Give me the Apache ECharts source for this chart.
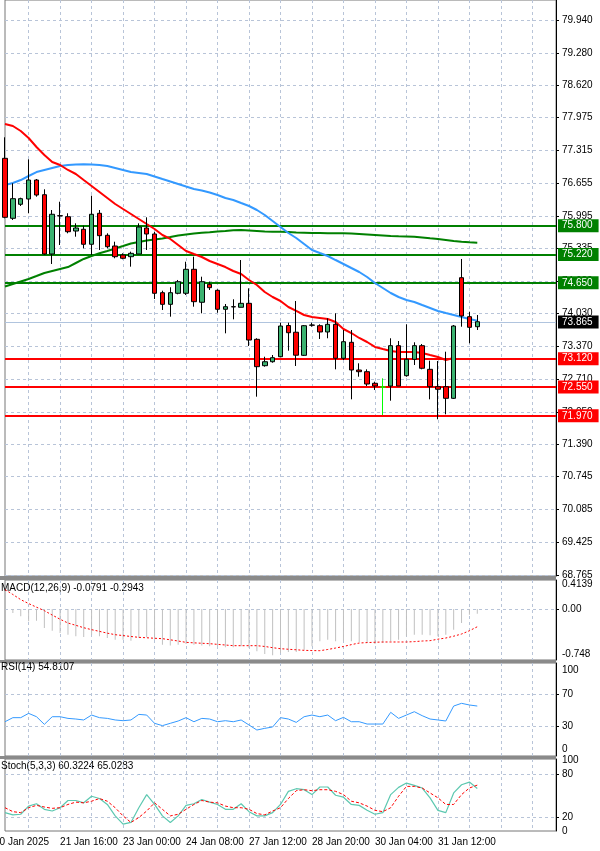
<!DOCTYPE html>
<html><head><meta charset="utf-8">
<script src="https://cdn.jsdelivr.net/npm/echarts@6/dist/echarts.min.js"></script>
<style>html,body{margin:0;padding:0;background:#fff}#c{width:600px;height:851px}</style>
</head><body><div id="c"></div>
<script>
const opens=[77.156,75.948,76.230,76.337,76.719,76.423,75.229,76.000,75.980,75.692,75.727,75.425,76.049,75.606,75.390,75.209,75.175,75.229,75.753,75.632,74.450,74.216,74.438,74.438,74.921,74.257,74.619,74.498,74.116,74.168,74.156,74.236,73.511,72.980,73.060,73.161,73.789,73.654,73.189,73.799,73.785,73.659,73.813,73.129,73.451,72.893,72.859,72.626,72.55,72.571,73.383,72.779,73.109,73.383,72.907,72.557,72.557,72.323,74.752,73.967,73.765];
const closes=[75.968,76.343,76.343,76.719,76.417,75.229,76.029,75.996,75.678,75.753,75.425,76.029,75.598,75.376,75.175,75.143,75.243,75.773,75.632,74.438,74.216,74.450,74.671,74.921,74.269,74.671,74.551,74.116,74.168,74.164,74.236,73.497,72.960,73.060,73.141,73.779,73.644,73.191,73.785,73.795,73.659,73.813,73.129,73.463,72.893,72.859,72.611,72.571,72.55,73.383,72.571,73.109,73.383,72.928,72.557,72.505,72.323,73.779,73.981,73.753,73.865];
const lows=[75.948,75.914,76.196,76.049,76.383,75.209,75.028,75.410,75.646,75.578,75.344,75.209,75.310,75.344,75.143,75.123,74.974,75.229,75.310,74.323,74.102,73.967,74.418,74.404,74.168,74.035,74.504,74.047,73.632,73.914,74.156,73.377,72.356,72.960,73.040,73.149,73.282,72.974,73.175,73.765,73.518,73.532,72.907,73.095,72.303,72.758,72.571,72.491,71.987,72.275,72.571,72.758,72.994,72.907,72.303,71.901,72.001,72.309,73.765,73.431,73.699];
const highs=[77.579,76.653,76.363,77.136,76.739,76.532,76.115,76.282,76.049,75.847,75.799,76.403,76.115,75.646,75.477,75.243,75.276,75.847,75.968,75.678,74.490,74.559,74.706,75.074,75.175,74.772,74.671,74.518,74.222,74.317,75.108,74.538,73.532,73.161,73.195,73.846,73.846,74.283,73.799,73.846,73.813,73.934,74.035,73.699,73.699,73.028,72.907,72.658,72.726,73.532,73.477,73.813,73.451,73.417,73.081,73.075,73.262,73.799,75.129,74.067,74.001];
const maRed=[77.847,77.807,77.706,77.565,77.384,77.223,77.082,77.021,76.921,76.840,76.719,76.599,76.478,76.357,76.236,76.135,76.035,75.934,75.833,75.733,75.612,75.532,75.411,75.290,75.229,75.169,75.088,75.028,74.967,74.887,74.826,74.706,74.605,74.464,74.363,74.283,74.162,74.082,74.001,73.961,73.941,73.920,73.860,73.719,73.638,73.538,73.457,73.357,73.316,73.276,73.256,73.256,73.256,73.236,73.195,73.155,73.095,73.135];
const maBlue=[76.619,76.659,76.719,76.800,76.880,76.921,76.961,77.001,77.021,77.031,77.035,77.031,77.021,77.001,76.961,76.921,76.880,76.860,76.840,76.790,76.739,76.689,76.639,76.588,76.538,76.508,76.468,76.417,76.357,76.317,76.256,76.196,76.115,76.015,75.894,75.773,75.652,75.551,75.431,75.310,75.249,75.189,75.108,75.028,74.947,74.867,74.766,74.645,74.545,74.444,74.363,74.303,74.263,74.202,74.142,74.082,74.041,74.001,73.961,73.920,73.886];
const maGreen=[74.575,74.625,74.676,74.726,74.786,74.847,74.887,74.927,74.967,75.048,75.129,75.189,75.243,75.289,75.340,75.390,75.441,75.471,75.501,75.521,75.541,75.571,75.602,75.622,75.642,75.656,75.666,75.682,75.692,75.706,75.712,75.702,75.692,75.682,75.678,75.678,75.672,75.662,75.658,75.652,75.652,75.648,75.646,75.646,75.640,75.632,75.622,75.612,75.602,75.592,75.586,75.582,75.576,75.562,75.546,75.531,75.511,75.491,75.477,75.465,75.457];
const macdHist=[-0.02,-0.066,-0.121,-0.204,-0.193,-0.315,-0.359,-0.397,-0.425,-0.453,-0.464,-0.425,-0.453,-0.480,-0.508,-0.508,-0.524,-0.480,-0.469,-0.508,-0.591,-0.602,-0.591,-0.579,-0.591,-0.602,-0.618,-0.618,-0.635,-0.635,-0.618,-0.646,-0.701,-0.745,-0.767,-0.728,-0.712,-0.712,-0.673,-0.618,-0.535,-0.508,-0.535,-0.524,-0.535,-0.546,-0.563,-0.579,-0.563,-0.535,-0.508,-0.453,-0.425,-0.425,-0.436,-0.453,-0.425,-0.342,-0.232,-0.094,-0.079];
const macdSignal=[0.32,0.24,0.155,0.09,0.03,-0.028,-0.10,-0.17,-0.232,-0.27,-0.31,-0.342,-0.37,-0.40,-0.425,-0.44,-0.455,-0.469,-0.476,-0.484,-0.491,-0.51,-0.53,-0.552,-0.56,-0.567,-0.574,-0.585,-0.596,-0.607,-0.607,-0.607,-0.607,-0.62,-0.64,-0.657,-0.666,-0.675,-0.684,-0.688,-0.690,-0.67,-0.646,-0.62,-0.59,-0.563,-0.556,-0.55,-0.546,-0.546,-0.546,-0.546,-0.54,-0.53,-0.524,-0.50,-0.480,-0.45,-0.414,-0.36,-0.294];
const rsi=[35.1,40.2,40.2,45.6,41.4,31.8,41.4,41.4,39.3,38.5,37.3,43.5,40.2,39.3,37.3,36.4,37.3,44.3,43.5,33.1,30.2,33.1,36.0,40.2,35.1,39.3,38.5,35.1,36.4,35.1,37.3,31.0,24.7,26.8,28.5,40.2,38.5,34.3,41.4,43.5,41.4,43.5,36.4,40.6,35.1,35.1,32.2,32.2,32.2,46.9,39.3,43.5,47.7,42.7,38.5,37.3,36.0,54.8,58.2,56.1,54.8];
const stochK=[26,22.9,23.7,35.3,38.6,30.7,28.3,33,43.2,43.2,39.9,49.2,46,37.6,21.4,9.8,12.1,33,51.6,37.6,21.4,12.1,21.4,36.3,38.6,44.6,40.9,37.6,30.7,30.7,38.6,27.4,21.4,21.4,26,37.6,56.2,59.9,58.5,51.6,62.3,62.3,50.6,47.9,37.6,36.3,29.3,23.7,26,51.6,61.8,67.9,64.6,60.9,47,29.3,26,53.9,65.5,69.3,60.3];
const stochD=[33,27.4,26,33,36.3,34,32.1,33,37.6,40.9,39.9,42.2,46,42.2,33,21.4,12.1,19.1,28.3,39.9,30.7,21.4,23.7,30.7,37.6,43.2,40.9,39.9,35.3,33,33,30.7,24.7,22.9,28.3,33,46,57.1,58.5,57.1,58.5,58.5,56.2,51.6,42.2,39.9,35.3,29.3,27.4,33,49.2,63.2,63.2,60.9,53.9,47,37.6,37.6,51.6,60.9,65];
const priceTicks=[79.940,79.280,78.620,77.975,77.315,76.655,75.995,75.335,74.680,74.030,73.370,72.710,72.050,71.390,70.745,70.085,69.425,68.765];
const supportLevels=[73.120,72.550,71.970];
const resistLevels=[75.800,75.220,74.650];
const lastPrice=73.865;
const firstLabel='20 Jan 2025';
const timeLabels={7:'21 Jan 16:00',15:'23 Jan 00:00',23:'24 Jan 08:00',31:'27 Jan 12:00',39:'28 Jan 20:00',47:'30 Jan 04:00',55:'31 Jan 12:00'};
const N=71;
const cats=[];for(let i=0;i<N;i++)cats.push(timeLabels[i]||'');
const lime=48;
const candles=opens.map((o,i)=>{const d={value:[o,closes[i],lows[i],highs[i]]};if(i===lime)d.itemStyle={color:'#00ff00',color0:'#00ff00',borderColor:'#00ff00',borderColor0:'#00ff00'};return d;});

const F='Liberation Sans';
const gridDef=[{top:0,height:576},{top:580,height:80},{top:663,height:93},{top:759,height:72}];
const grids=gridDef.map(g=>({left:5,right:44,top:g.top,height:g.height,show:true,borderColor:'#777',borderWidth:1}));
const split={show:true,lineStyle:{color:'#b8c4d8',type:[3,3],width:1}};
const xAxes=gridDef.map((g,k)=>({type:'category',gridIndex:k,data:cats,boundaryGap:false,
  axisLine:{show:false},axisTick:{show:false},
  splitLine:{show:true,interval:(i)=>i%4===3,lineStyle:{color:'#b8c4d8',type:[3,3]}},
  axisLabel:{show:k===3,interval:(i)=>!!timeLabels[i],align:'left',fontFamily:F,fontSize:10,color:'#000',margin:6,hideOverlap:false}}));
function yAx(k,min,max,vals,fmt,splitVals){return {type:'value',gridIndex:k,position:'right',min,max,
  axisLine:{show:true,lineStyle:{color:'#000'}},
  axisTick:{show:true,length:3,customValues:splitVals||vals,lineStyle:{color:'#000'}},
  axisLabel:{customValues:vals,formatter:fmt,fontFamily:F,fontSize:10,color:'#000',margin:6},
  splitLine:split};}
const yAxes=[
 yAx(0,68.745,80.344,priceTicks,v=>v.toFixed(3)),
 yAx(1,-0.844,0.48,[0.4139,0,-0.748],v=>v===0?'0.00':String(v),[0]),
 yAx(2,-7.9,108.8,[100,70,30,0],v=>String(v),[70,30]),
 yAx(3,0,102,[100,80,20,0],v=>String(v),[80,20])
];
const mk=(v,c)=>({yAxis:v,lineStyle:{color:c,width:c==='#b0c4de'?1:2,type:'solid'},
  label:{show:true,position:'end',formatter:v.toFixed(3),backgroundColor:c==='#b0c4de'?'#000':c,color:'#fff',fontFamily:F,fontSize:10,padding:[2,6,1,4],distance:2}});
const levels=[...resistLevels.map(v=>mk(v,'#008000')),...supportLevels.map(v=>mk(v,'#ff0000')),mk(lastPrice,'#b0c4de')];

const option={animation:false,grid:grids,xAxis:xAxes,yAxis:yAxes,
 series:[
  {type:'line',xAxisIndex:0,yAxisIndex:0,data:maGreen,symbol:'none',lineStyle:{color:'#008000',width:2},z:2},
  {type:'line',xAxisIndex:0,yAxisIndex:0,data:maBlue,symbol:'none',lineStyle:{color:'#3399ff',width:2},z:2},
  {type:'line',xAxisIndex:0,yAxisIndex:0,data:maRed,symbol:'none',lineStyle:{color:'#ff0000',width:2},z:2},
  {type:'candlestick',xAxisIndex:0,yAxisIndex:0,data:candles,barWidth:5,z:3,
   itemStyle:{color:'#3cb371',color0:'#ff0000',borderColor:'#000',borderColor0:'#000',borderWidth:1},
   markLine:{symbol:'none',silent:true,data:levels,z:1}},
  {type:'bar',xAxisIndex:1,yAxisIndex:1,data:macdHist,barWidth:1,itemStyle:{color:'#c0c0c0'}},
  {type:'line',xAxisIndex:1,yAxisIndex:1,data:macdSignal,symbol:'none',lineStyle:{color:'#ff0000',width:1,type:[2,2]}},
  {type:'line',xAxisIndex:2,yAxisIndex:2,data:rsi,symbol:'none',lineStyle:{color:'#3399ff',width:1}},
  {type:'line',xAxisIndex:3,yAxisIndex:3,data:stochK,symbol:'none',lineStyle:{color:'#5cc8b0',width:1.2}},
  {type:'line',xAxisIndex:3,yAxisIndex:3,data:stochD,symbol:'none',lineStyle:{color:'#ff0000',width:1,type:[3,2]}}
 ],
 graphic:[
  {type:'rect',shape:{x:0,y:576,width:556,height:4},style:{fill:'#8a8a8a'}},
  {type:'rect',shape:{x:0,y:660,width:556,height:3},style:{fill:'#8a8a8a'}},
  {type:'rect',shape:{x:0,y:756,width:556,height:3},style:{fill:'#8a8a8a'}},
  {type:'text',left:-6,top:837,style:{text:firstLabel,font:'10px Liberation Sans',fill:'#000'}},
  {type:'text',left:1,top:583,style:{text:'MACD(12,26,9) -0.0791 -0.2943',font:'10px Liberation Sans',fill:'#000'}},
  {type:'text',left:1,top:662,style:{text:'RSI(14) 54.8107',font:'10px Liberation Sans',fill:'#000'}},
  {type:'text',left:1,top:761,style:{text:'Stoch(5,3,3) 60.3224 65.0283',font:'10px Liberation Sans',fill:'#000'}}
 ]};
echarts.init(document.getElementById('c')).setOption(option);
</script></body></html>
